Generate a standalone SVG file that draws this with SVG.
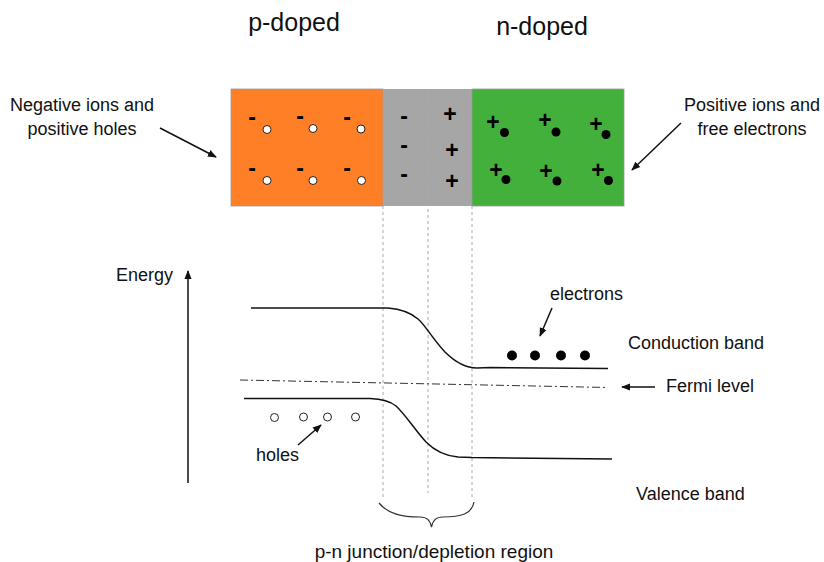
<svg xmlns="http://www.w3.org/2000/svg" width="824" height="562" viewBox="0 0 824 562">
<style>
.t{font-family:"Liberation Sans",Arial,sans-serif;fill:#111}
.lbl{font-size:18px}
.ttl{font-size:25px}
.sg{font-family:"Liberation Sans",Arial,sans-serif;font-weight:bold;font-size:23px;fill:#000;text-anchor:middle}
.band{fill:none;stroke:#111;stroke-width:1.5}
.dash{stroke:#aaa;stroke-width:1;stroke-dasharray:3,3}
.arr{stroke:#111;stroke-width:1.5;marker-end:url(#ah)}
.hole{fill:#fff;stroke:#222;stroke-width:1}
</style>
<defs>
<marker id="ah" viewBox="0 0 10 10" refX="9" refY="5" markerWidth="6" markerHeight="6" orient="auto">
<path d="M0,1 L10,5 L0,9 z" fill="#111"/>
</marker>
</defs>
<rect width="824" height="562" fill="#fff"/>

<g id="titles">
<text class="t ttl" x="294" y="31" text-anchor="middle">p-doped</text>
<text class="t ttl" x="542" y="35" text-anchor="middle">n-doped</text>
</g>

<g id="p-region">
<rect x="231" y="89" width="152" height="117" fill="#FF7F27" stroke="#999" stroke-width="0.8"/>
<text class="sg" x="252" y="125">-</text>
<text class="sg" x="300" y="124">-</text>
<text class="sg" x="347" y="125">-</text>
<text class="sg" x="252" y="176">-</text>
<text class="sg" x="300" y="176">-</text>
<text class="sg" x="347" y="176">-</text>
<circle class="hole" cx="267" cy="129.5" r="4"/>
<circle class="hole" cx="313" cy="128.5" r="4"/>
<circle class="hole" cx="361" cy="129" r="4"/>
<circle class="hole" cx="267" cy="180.5" r="4"/>
<circle class="hole" cx="313" cy="180.5" r="4"/>
<circle class="hole" cx="361.5" cy="180.5" r="4"/>
</g>

<g id="depletion">
<rect x="383" y="89" width="89" height="117" fill="#A6A6A6"/>
<text class="sg" x="404" y="124">-</text>
<text class="sg" x="404" y="153">-</text>
<text class="sg" x="404" y="182">-</text>
<text class="sg" x="450" y="122">+</text>
<text class="sg" x="452" y="158">+</text>
<text class="sg" x="452" y="189">+</text>
</g>

<g id="n-region">
<rect x="472" y="89" width="152" height="117" fill="#44B03C" stroke="#999" stroke-width="0.8"/>
<text class="sg" x="493" y="130">+</text>
<text class="sg" x="545" y="128">+</text>
<text class="sg" x="596" y="132">+</text>
<text class="sg" x="496" y="178">+</text>
<text class="sg" x="546" y="179">+</text>
<text class="sg" x="598" y="178">+</text>
<circle cx="504.5" cy="132.5" r="4.5" fill="#000"/>
<circle cx="556" cy="132" r="4.5" fill="#000"/>
<circle cx="606" cy="134.5" r="4.5" fill="#000"/>
<circle cx="506" cy="179.5" r="4.5" fill="#000"/>
<circle cx="557" cy="181" r="4.5" fill="#000"/>
<circle cx="608.5" cy="180.5" r="4.5" fill="#000"/>
</g>

<g id="guides">
<line class="dash" x1="383" y1="206" x2="383" y2="500"/>
<line class="dash" x1="428" y1="89" x2="428" y2="493"/>
<line class="dash" x1="472" y1="206" x2="472" y2="500"/>
</g>

<g id="left-label">
<text class="t lbl" x="82" y="111" text-anchor="middle">Negative ions and</text>
<text class="t lbl" x="82" y="135" text-anchor="middle">positive holes</text>
</g>
<g id="right-label">
<text class="t lbl" x="752" y="111" text-anchor="middle">Positive ions and</text>
<text class="t lbl" x="752" y="135" text-anchor="middle">free electrons</text>
</g>

<g id="bands">
<path class="band" d="M251,308 L388,308 C400,309 410,312 418,319 C426,326 432,338 445,352 C455,362 466,368 477,368 L490,367.5 L608,368.5"/>
<path class="band" d="M244,398.5 L370,398.5 C382,399 390,401 396,406 C405,414 415,430 426,442 C436,452 446,456 458,457 L472,457.5 L612,459"/>
<line x1="240" y1="380" x2="608" y2="387.5" stroke="#333" stroke-width="1" stroke-dasharray="8,3,2,3"/>
</g>

<g id="carriers">
<circle cx="512" cy="355.5" r="5" fill="#000"/>
<circle cx="535" cy="355.5" r="5" fill="#000"/>
<circle cx="561" cy="355.5" r="5" fill="#000"/>
<circle cx="585" cy="355.5" r="5" fill="#000"/>
<circle class="hole" cx="274.5" cy="417.5" r="4"/>
<circle class="hole" cx="303.5" cy="417" r="4"/>
<circle class="hole" cx="327.5" cy="417" r="4"/>
<circle class="hole" cx="355.5" cy="417" r="4"/>
</g>

<g id="band-labels">
<text class="t lbl" x="116" y="281">Energy</text>
<text class="t lbl" x="550" y="300">electrons</text>
<text class="t lbl" x="628" y="349">Conduction band</text>
<text class="t lbl" x="666" y="392">Fermi level</text>
<text class="t lbl" x="256" y="461">holes</text>
<text class="t lbl" x="636" y="500">Valence band</text>
<text class="t lbl" x="434" y="558" text-anchor="middle" style="font-size:19px">p-n junction/depletion region</text>
</g>

<g id="connectors">
<line class="arr" x1="160" y1="128" x2="216" y2="157"/>
<line class="arr" x1="681" y1="123" x2="632" y2="170"/>
<line class="arr" x1="188" y1="483" x2="188" y2="271"/>
<line class="arr" x1="552" y1="308" x2="540" y2="336"/>
<line class="arr" x1="298" y1="445" x2="321" y2="425"/>
<line class="arr" x1="655" y1="387" x2="622" y2="387"/>
<path d="M379,503 C388,514 402,517 420,517 C427,517 430,520 431.5,527 C433,520 436,517 443,517 C461,517 472,514 474,502" fill="none" stroke="#333" stroke-width="1.2"/>
</g>
</svg>
